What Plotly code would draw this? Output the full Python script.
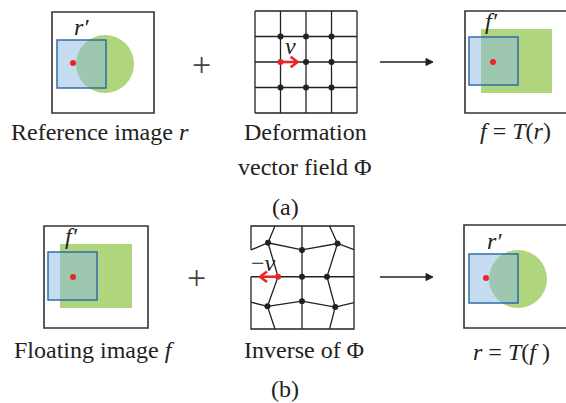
import plotly.graph_objects as go

# ---- diagram content -------------------------------------------------------
# caption text for each panel (one entry per line)
captions_a = [["Reference image <i>r</i>"], ["Deformation", "vector field Φ"],
              ["<i>f</i> = <i>T</i>(<i>r</i>)"]]
captions_b = [["Floating image <i>f</i>"], ["Inverse of Φ"],
              ["<i>r</i> = <i>T</i>(<i>f</i> )"]]
sublabels = ["(a)", "(b)"]

# regular 4x4 control grid (grid units)
grid_lines = [0, 1, 2, 3, 4]
regular_nodes_x = [1, 2, 3, 2, 3, 1, 2, 3]
regular_nodes_y = [1, 1, 1, 2, 2, 3, 3, 3]
vector_start = (1, 2)          # node that carries the displacement v
vector_v = (0.67, 0.0)         # displacement, grid units

# inverse field: deformed grid node positions (grid units)
inv_rows = [
    [(0, 0.93), (0.66, 0.65), (1.98, 0.93), (3.36, 0.68), (4, 0.92)],
    [(0, 1.97), (1.05, 1.97), (1.98, 1.97), (2.95, 1.97), (4, 1.97)],
    [(0, 2.96), (0.64, 3.12), (1.98, 2.92), (3.27, 3.15), (4, 2.98)],
]
inv_cols = [
    [(0.93, 0), (0.66, 0.65), (1.05, 1.97), (0.64, 3.12), (0.93, 4)],
    [(1.98, 0), (1.98, 0.93), (1.98, 1.97), (1.98, 2.92), (1.98, 4)],
    [(3.05, 0), (3.36, 0.68), (2.95, 1.97), (3.27, 3.15), (3.05, 4)],
]
# outer border of the deformed grid, left side interrupted by the -v label
inv_border = [
    [(0, 0.93), (0, 0), (4, 0), (4, 4), (0, 4), (0, 1.97)],
]
inv_nodes = [(0.66, 0.65), (1.98, 0.93), (3.36, 0.68),
             (1.98, 1.97), (2.95, 1.97),
             (0.64, 3.12), (1.98, 2.92), (3.27, 3.15)]
inv_start = (1.05, 1.97)
inv_v = (-0.7, 0.0)

# ---- styles ---------------------------------------------------------------
FONT = "Liberation Serif"
INK = "#222222"
FRAME = "#333333"
GREEN = "rgb(175,213,125)"
BLUE_FILL = "rgba(141,185,228,0.5)"
BLUE_LINE = "#2f6ea6"
RED = "#e8262a"
FS = 24

fig = go.Figure()
shapes = []
annotations = []


def frame(x0, y0, x1, y1):
    shapes.append(dict(type="rect", x0=x0, y0=y0, x1=x1, y1=y1,
                       line=dict(color=FRAME, width=1.6), layer="below"))


def green_rect(x0, y0, x1, y1):
    shapes.append(dict(type="rect", x0=x0, y0=y0, x1=x1, y1=y1,
                       line=dict(width=0), fillcolor=GREEN, layer="below"))


def green_circle(cx, cy, r):
    shapes.append(dict(type="circle", x0=cx - r, y0=cy - r, x1=cx + r, y1=cy + r,
                       line=dict(width=0), fillcolor=GREEN, layer="below"))


def blue_square(x0, y0, x1, y1):
    shapes.append(dict(type="rect", x0=x0, y0=y0, x1=x1, y1=y1,
                       line=dict(color=BLUE_LINE, width=1.5),
                       fillcolor=BLUE_FILL, layer="below"))


def dots(xs, ys, color, size=6):
    fig.add_trace(go.Scatter(x=xs, y=ys, mode="markers",
                             marker=dict(color=color, size=size, line=dict(width=0)),
                             hoverinfo="skip"))


def polyline(pts, color=INK, width=1.3):
    fig.add_trace(go.Scatter(x=[p[0] for p in pts], y=[p[1] for p in pts],
                             mode="lines", line=dict(color=color, width=width),
                             hoverinfo="skip"))


def text(x, y, s, size=FS, color=INK):
    annotations.append(dict(x=x, y=y, text=s, showarrow=False,
                            xanchor="center", yanchor="middle",
                            font=dict(family=FONT, size=size, color=color)))


def caption(x, y, lines, gap=35):
    for i, s in enumerate(lines):
        text(x, y + i * gap, s)


def red_vector(p0, p1, head=7):
    # shaft plus an open chevron head
    sx = 1 if p1[0] > p0[0] else -1
    polyline([p0, p1], RED, 2.6)
    polyline([(p1[0] - sx * head, p1[1] - head * 0.75), p1,
              (p1[0] - sx * head, p1[1] + head * 0.75)], RED, 2.6)


def black_arrow(x0, x1, y, head=7, half=3.5):
    polyline([(x0, y), (x1 - head + 1, y)], INK, 1.6)
    fig.add_trace(go.Scatter(x=[x1 - head, x1, x1 - head, x1 - head],
                             y=[y - half, y, y + half, y - half],
                             mode="lines", fill="toself", fillcolor=INK,
                             line=dict(color=INK, width=1), hoverinfo="skip"))


def to_px(origin, cell, p):
    return (origin[0] + p[0] * cell, origin[1] + p[1] * cell)


# ---- row (a) --------------------------------------------------------------
# reference image r
frame(52, 12, 154, 113)
green_circle(105, 64, 29)
blue_square(57, 40, 106, 88)
dots([73], [63], RED)
text(81, 27, "<i>r′</i>")

text(201, 64, "+", size=34, color="#444444")

# regular control grid
g0, gc = (255, 11), 25.5
for g in grid_lines:
    polyline([to_px(g0, gc, (g, 0)), to_px(g0, gc, (g, 4))], INK, 1.3)
    polyline([to_px(g0, gc, (0, g)), to_px(g0, gc, (4, g))], INK, 1.3)
pts = [to_px(g0, gc, (x, y)) for x, y in zip(regular_nodes_x, regular_nodes_y)]
dots([p[0] for p in pts], [p[1] for p in pts], INK, 6)
vs = to_px(g0, gc, vector_start)
ve = to_px(g0, gc, (vector_start[0] + vector_v[0], vector_start[1] + vector_v[1]))
red_vector(vs, ve)
dots([vs[0]], [vs[1]], RED, 6)
text(290, 46, "<i>v</i>")

black_arrow(380, 433, 62)

# warped image f
frame(465, 11, 572, 113)
green_rect(481, 29, 552, 93)
blue_square(469, 37, 518, 85)
dots([493], [62], RED)
text(491, 21, "<i>f′</i>")

caption(100, 132, captions_a[0])
caption(305, 132, captions_a[1])
caption(515, 131, captions_a[2])
text(285, 207, sublabels[0])

# ---- row (b) --------------------------------------------------------------
# floating image f
frame(44, 226, 148, 328)
green_rect(60, 244, 132, 308)
blue_square(48, 252, 97, 300)
dots([73], [277], RED)
text(71, 236, "<i>f′</i>")

text(196, 277, "+", size=34, color="#444444")

# inverse (deformed) grid
h0, hc = (251, 226), 25.75
for row in inv_border + inv_rows + inv_cols:
    polyline([to_px(h0, hc, p) for p in row], INK, 1.3)
pts = [to_px(h0, hc, p) for p in inv_nodes]
dots([p[0] for p in pts], [p[1] for p in pts], INK, 6)
text(263, 263, "−<i>v</i>")
ws = to_px(h0, hc, inv_start)
we = to_px(h0, hc, (inv_start[0] + inv_v[0], inv_start[1] + inv_v[1]))
red_vector(ws, we)
dots([ws[0]], [ws[1]], RED, 6)

black_arrow(380, 433, 277)

# warped image r
frame(464, 225, 572, 328)
green_circle(518, 279, 29)
blue_square(469, 254, 518, 303)
dots([486], [278], RED)
text(494, 241, "<i>r′</i>")

caption(94, 350, captions_b[0])
caption(304, 350, captions_b[1])
caption(511, 352, captions_b[2])
text(285, 389, sublabels[1])

fig.update_layout(
    width=566, height=403, margin=dict(l=0, r=0, t=0, b=0),
    paper_bgcolor="white", plot_bgcolor="white", showlegend=False,
    xaxis=dict(range=[0, 566], visible=False, fixedrange=True),
    yaxis=dict(range=[403, 0], visible=False, fixedrange=True),
    shapes=shapes, annotations=annotations,
)
fig.write_html("out.html", config={"displayModeBar": False})
